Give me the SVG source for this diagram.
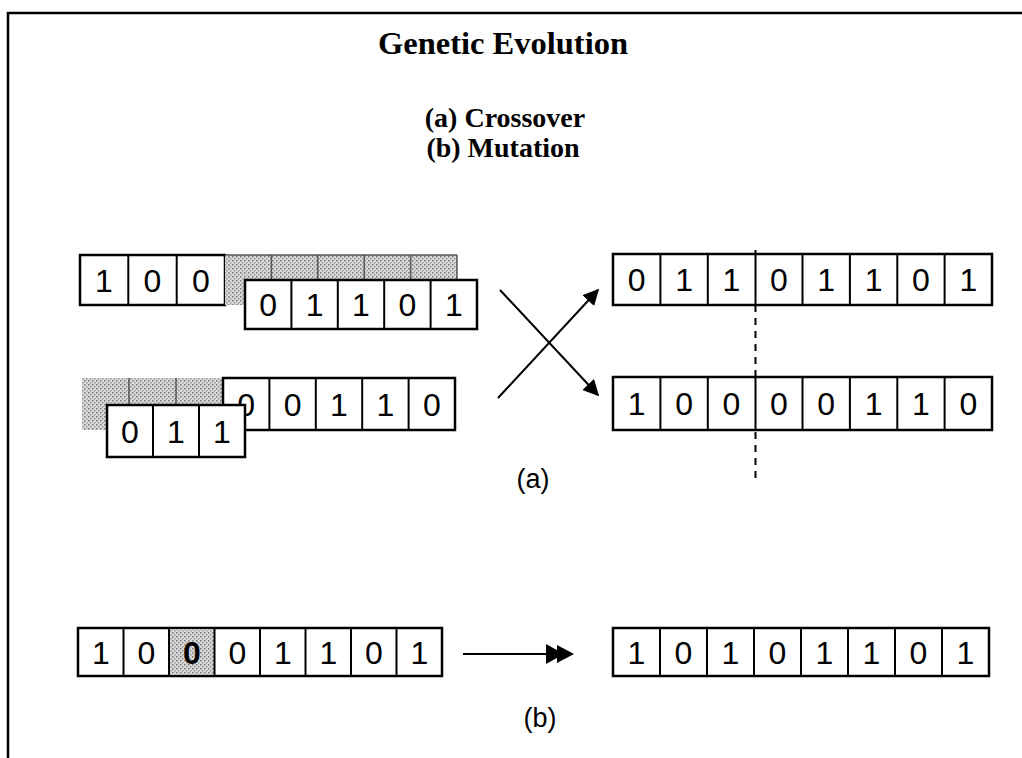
<svg xmlns="http://www.w3.org/2000/svg" width="1022" height="758" viewBox="0 0 1022 758">
<defs>
<pattern id="stip" width="4" height="4" patternUnits="userSpaceOnUse">
<rect width="4" height="4" fill="#d8d8d8"/>
<rect x="0" y="0" width="1.5" height="1.5" fill="#7a7a7a"/>
<rect x="2" y="2" width="1.5" height="1.5" fill="#9a9a9a"/>
</pattern>
<marker id="ah" viewBox="0 0 10 10" refX="9" refY="5" markerWidth="8" markerHeight="8" markerUnits="strokeWidth" orient="auto">
<path d="M0,0 L10,5 L0,10 z" fill="#000"/>
</marker>
</defs>
<style>
.box{fill:#fff;stroke:#000;stroke-width:2.5}
.div{stroke:#000;stroke-width:2}
.sh{fill:url(#stip);stroke:none}
.shd{stroke:#555;stroke-width:1.5}
.d{font-family:"Liberation Sans",Arial,sans-serif;font-size:32px;fill:#000;text-anchor:middle}
.title{font-family:"Liberation Serif","Times New Roman",serif;font-weight:bold;fill:#000;text-anchor:middle}
.lbl{font-family:"Liberation Sans",Arial,sans-serif;font-size:27px;fill:#000;text-anchor:middle}
.ln{stroke:#000;stroke-width:2;fill:none}
</style>
<rect width="1022" height="758" fill="#fff"/>
<g id="frame">
<line x1="7" y1="13" x2="1022" y2="13" stroke="#000" stroke-width="2.5"/>
<line x1="8" y1="12" x2="8" y2="758" stroke="#000" stroke-width="2.5"/>
</g>
<g id="titles">
<text class="title" x="503" y="54" font-size="32.5">Genetic Evolution</text>
<text class="title" x="505" y="127" font-size="28">(a) Crossover</text>
<text class="title" x="503" y="157" font-size="28">(b) Mutation</text>
</g>

<g id="parent1">
<rect class="box" x="80" y="255" width="145" height="50"/>
<line class="div" x1="128.3" y1="255" x2="128.3" y2="305"/>
<line class="div" x1="176.7" y1="255" x2="176.7" y2="305"/>
<text class="d" x="104" y="292">1</text>
<text class="d" x="152.5" y="292">0</text>
<text class="d" x="201" y="292">0</text>
<rect class="sh" x="225" y="255" width="232" height="50"/>
<line class="shd" x1="271.4" y1="255" x2="271.4" y2="280"/>
<line class="shd" x1="317.8" y1="255" x2="317.8" y2="280"/>
<line class="shd" x1="364.2" y1="255" x2="364.2" y2="280"/>
<line class="shd" x1="410.6" y1="255" x2="410.6" y2="280"/>
<line class="shd" x1="225" y1="255" x2="457" y2="255"/>
<line class="shd" x1="457" y1="255" x2="457" y2="280"/>
</g>
<g id="segment1">
<rect class="box" x="245" y="280" width="232" height="49"/>
<line class="div" x1="291.4" y1="280" x2="291.4" y2="329"/>
<line class="div" x1="337.8" y1="280" x2="337.8" y2="329"/>
<line class="div" x1="384.2" y1="280" x2="384.2" y2="329"/>
<line class="div" x1="430.6" y1="280" x2="430.6" y2="329"/>
<text class="d" x="268.2" y="316">0</text>
<text class="d" x="314.6" y="316">1</text>
<text class="d" x="361" y="316">1</text>
<text class="d" x="407.4" y="316">0</text>
<text class="d" x="453.8" y="316">1</text>
</g>

<g id="parent2">
<rect class="sh" x="82" y="378" width="141" height="52"/>
<line class="shd" x1="129" y1="378" x2="129" y2="405"/>
<line class="shd" x1="176" y1="378" x2="176" y2="405"/>
<rect class="box" x="223" y="378" width="232" height="52"/>
<line class="div" x1="269.4" y1="378" x2="269.4" y2="430"/>
<line class="div" x1="315.8" y1="378" x2="315.8" y2="430"/>
<line class="div" x1="362.2" y1="378" x2="362.2" y2="430"/>
<line class="div" x1="408.6" y1="378" x2="408.6" y2="430"/>
<text class="d" x="246.2" y="416">0</text>
<text class="d" x="292.6" y="416">0</text>
<text class="d" x="339" y="416">1</text>
<text class="d" x="385.4" y="416">1</text>
<text class="d" x="431.8" y="416">0</text>
</g>
<g id="segment2">
<rect class="box" x="107" y="405" width="138" height="52"/>
<line class="div" x1="153" y1="405" x2="153" y2="457"/>
<line class="div" x1="199" y1="405" x2="199" y2="457"/>
<text class="d" x="130" y="443">0</text>
<text class="d" x="176" y="443">1</text>
<text class="d" x="222" y="443">1</text>
</g>

<g id="child1">
<rect class="box" x="613" y="254" width="379" height="51"/>
<line class="div" x1="660.4" y1="254" x2="660.4" y2="305"/>
<line class="div" x1="707.8" y1="254" x2="707.8" y2="305"/>
<line class="div" x1="755.5" y1="250" x2="755.5" y2="305"/>
<line class="div" x1="802.5" y1="254" x2="802.5" y2="305"/>
<line class="div" x1="849.9" y1="254" x2="849.9" y2="305"/>
<line class="div" x1="897.3" y1="254" x2="897.3" y2="305"/>
<line class="div" x1="944.6" y1="254" x2="944.6" y2="305"/>
<text class="d" x="636.7" y="291">0</text>
<text class="d" x="684.1" y="291">1</text>
<text class="d" x="731.4" y="291">1</text>
<text class="d" x="778.8" y="291">0</text>
<text class="d" x="826.2" y="291">1</text>
<text class="d" x="873.6" y="291">1</text>
<text class="d" x="921" y="291">0</text>
<text class="d" x="968.3" y="291">1</text>
</g>
<g id="child2">
<rect class="box" x="613" y="377" width="379" height="53"/>
<line class="div" x1="660.4" y1="377" x2="660.4" y2="430"/>
<line class="div" x1="707.8" y1="377" x2="707.8" y2="430"/>
<line class="div" x1="755.5" y1="377" x2="755.5" y2="430"/>
<line class="div" x1="802.5" y1="377" x2="802.5" y2="430"/>
<line class="div" x1="849.9" y1="377" x2="849.9" y2="430"/>
<line class="div" x1="897.3" y1="377" x2="897.3" y2="430"/>
<line class="div" x1="944.6" y1="377" x2="944.6" y2="430"/>
<text class="d" x="636.7" y="415">1</text>
<text class="d" x="684.1" y="415">0</text>
<text class="d" x="731.4" y="415">0</text>
<text class="d" x="778.8" y="415">0</text>
<text class="d" x="826.2" y="415">0</text>
<text class="d" x="873.6" y="415">1</text>
<text class="d" x="921" y="415">1</text>
<text class="d" x="968.3" y="415">0</text>
</g>

<g id="mutant-before">
<rect class="box" x="78" y="628" width="364" height="48"/>
<rect class="sh" x="169" y="629" width="45.5" height="46"/>
<line class="div" x1="123.5" y1="628" x2="123.5" y2="676"/>
<line class="div" x1="169" y1="628" x2="169" y2="676"/>
<line class="div" x1="214.5" y1="628" x2="214.5" y2="676"/>
<line class="div" x1="260" y1="628" x2="260" y2="676"/>
<line class="div" x1="305.5" y1="628" x2="305.5" y2="676"/>
<line class="div" x1="351" y1="628" x2="351" y2="676"/>
<line class="div" x1="396.5" y1="628" x2="396.5" y2="676"/>
<text class="d" x="100.8" y="664">1</text>
<text class="d" x="146.3" y="664">0</text>
<text class="d" x="191.8" y="664" font-weight="bold">0</text>
<text class="d" x="237.3" y="664">0</text>
<text class="d" x="282.8" y="664">1</text>
<text class="d" x="328.3" y="664">1</text>
<text class="d" x="373.8" y="664">0</text>
<text class="d" x="419.3" y="664">1</text>
</g>
<g id="mutant-after">
<rect class="box" x="613" y="628" width="376" height="48"/>
<line class="div" x1="660" y1="628" x2="660" y2="676"/>
<line class="div" x1="707" y1="628" x2="707" y2="676"/>
<line class="div" x1="754" y1="628" x2="754" y2="676"/>
<line class="div" x1="801" y1="628" x2="801" y2="676"/>
<line class="div" x1="848" y1="628" x2="848" y2="676"/>
<line class="div" x1="895" y1="628" x2="895" y2="676"/>
<line class="div" x1="942" y1="628" x2="942" y2="676"/>
<text class="d" x="636.5" y="664">1</text>
<text class="d" x="683.5" y="664">0</text>
<text class="d" x="730.5" y="664">1</text>
<text class="d" x="777.5" y="664">0</text>
<text class="d" x="824.5" y="664">1</text>
<text class="d" x="871.5" y="664">1</text>
<text class="d" x="918.5" y="664">0</text>
<text class="d" x="965.5" y="664">1</text>
</g>

<g id="connectors">
<line class="ln" x1="500" y1="290" x2="598" y2="395" marker-end="url(#ah)"/>
<line class="ln" x1="498" y1="398" x2="598" y2="290" marker-end="url(#ah)"/>
<line x1="755.5" y1="305" x2="755.5" y2="377" stroke="#000" stroke-width="2" stroke-dasharray="7,6"/>
<line x1="755.5" y1="432" x2="755.5" y2="478" stroke="#000" stroke-width="2" stroke-dasharray="7,6"/>
<line class="ln" x1="463" y1="654" x2="552" y2="654"/>
<path d="M546,644 L564,654 L546,664 z" fill="#000"/>
<path d="M557,645 L574,654 L557,663 z" fill="#000"/>
</g>
<g id="labels">
<text class="lbl" x="533" y="488">(a)</text>
<text class="lbl" x="540" y="727">(b)</text>
</g>
</svg>
